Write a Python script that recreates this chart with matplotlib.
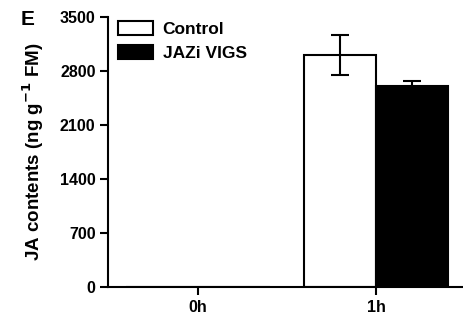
import matplotlib
matplotlib.use("Agg")
import matplotlib.pyplot as plt
import numpy as np

categories = ["0h", "1h"]
control = [0, 3010]
control_err = [0, 260]
jazi = [0, 2600]
jazi_err = [0, 65]
yticks = [0, 700, 1400, 2100, 2800, 3500]

plt.rcParams['font.family'] = ['Liberation Sans', 'DejaVu Sans']
fig = plt.figure(figsize=(4.63, 3.2), dpi=100)
ax = fig.add_axes([0.2333, 0.103, 0.7667, 0.844])

x = np.arange(len(categories))
w = 0.4045
ax.bar(x, control, width=-w, align='edge', color='white', edgecolor='black', linewidth=1.5, label='Control', zorder=2)
ax.bar(x, jazi, width=w, align='edge', color='black', edgecolor='black', linewidth=1.5, label='JAZi VIGS', zorder=2)
mask = np.array(control) > 0
ax.errorbar((x - w / 2)[mask], np.array(control)[mask], yerr=np.array(control_err)[mask], fmt='none',
            ecolor='black', elinewidth=1.5, capsize=6.5, capthick=1.5, zorder=3)
ax.errorbar((x + w / 2)[mask], np.array(jazi)[mask], yerr=np.array(jazi_err)[mask], fmt='none',
            ecolor='black', elinewidth=1.5, capsize=6.5, capthick=1.5, zorder=1)

ax.set_xlim(-0.5056, 1.489)
ax.set_ylim(0, 3500)
ax.set_yticks(yticks)
ax.set_xticks(x)
ax.set_xticklabels(categories, fontweight='bold', fontsize=11.5)
for lab in ax.get_yticklabels():
    lab.set_fontweight('bold')
    lab.set_fontsize(11.5)
ax.spines['top'].set_visible(False)
ax.spines['right'].set_visible(False)
ax.spines['left'].set_linewidth(1.5)
ax.spines['bottom'].set_linewidth(1.5)
ax.tick_params(axis='both', width=1.5, length=6, direction='out', pad=3)
ax.set_ylabel(r'JA contents (ng g$^{\mathbf{-1}}$ FM)', fontweight='bold', fontsize=13.5, labelpad=10)

leg = ax.legend(loc='upper left', bbox_to_anchor=(0.0, 1.025), frameon=False, prop={'weight': 'bold', 'size': 12.5},
                handlelength=2.0, handleheight=0.9, handletextpad=0.55, borderaxespad=0.2, labelspacing=0.45)

fig.text(0.045, 0.94, 'E', fontweight='bold', fontsize=15, va='center', ha='left')

fig.savefig('out.png', dpi=100)
